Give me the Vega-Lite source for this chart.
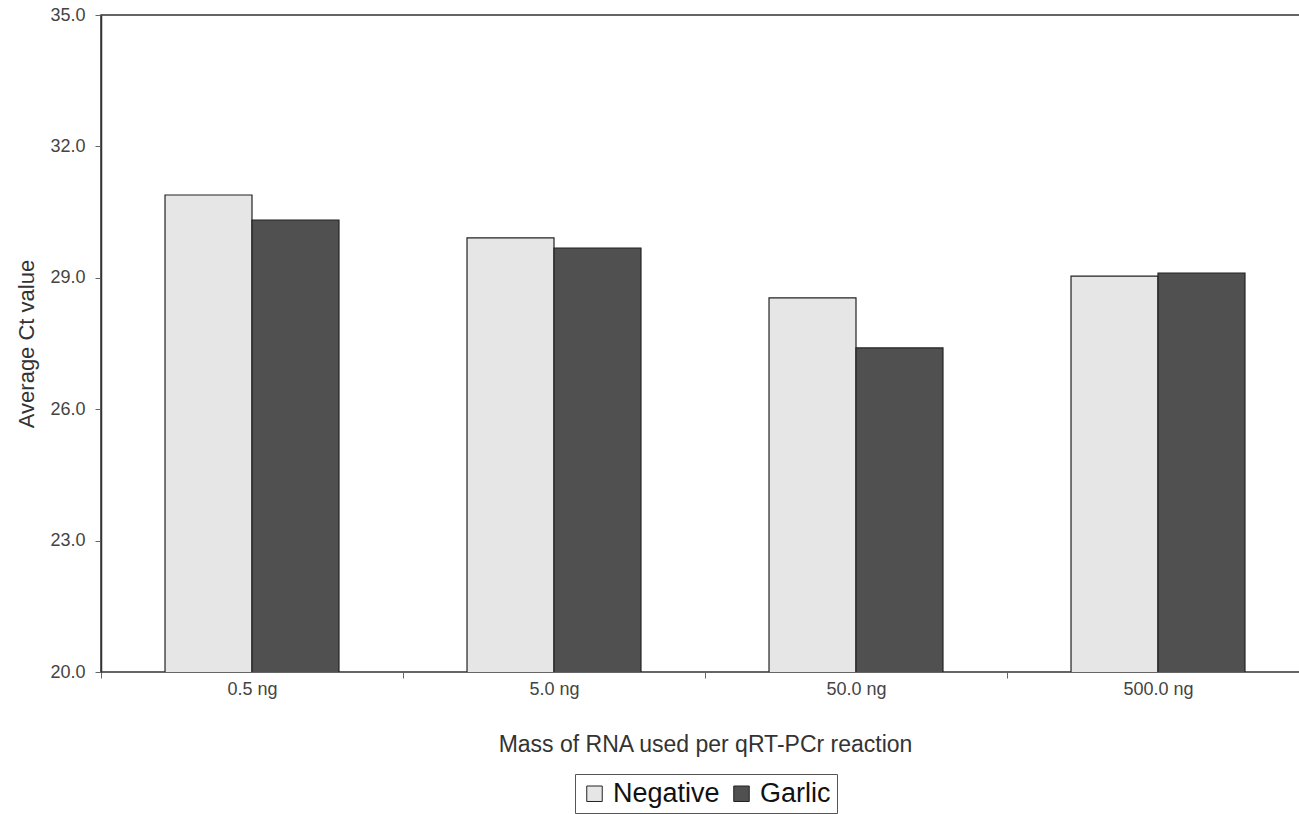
{
  "$schema": "https://vega.github.io/schema/vega-lite/v6.json",
  "width": 1208,
  "height": 657,
  "autosize": "none",
  "padding": {"left": 101, "top": 15, "right": 0, "bottom": 142},
  "background": "white",
  "config": {
    "font": "Liberation Sans",
    "view": {"stroke": "#333", "strokeWidth": 1.5},
    "axis": {"grid": false, "domainColor": "#333", "domainWidth": 1.5, "tickColor": "#666", "labelColor": "#444", "titleColor": "#333", "labelFontSize": 18, "titleFontSize": 22, "titleFontWeight": "normal"}
  },
  "data": {
    "values": [
      {"mass": "0.5 ng", "group": "Negative", "ct": 30.89},
      {"mass": "0.5 ng", "group": "Garlic", "ct": 30.32},
      {"mass": "5.0 ng", "group": "Negative", "ct": 29.91},
      {"mass": "5.0 ng", "group": "Garlic", "ct": 29.68},
      {"mass": "50.0 ng", "group": "Negative", "ct": 28.54},
      {"mass": "50.0 ng", "group": "Garlic", "ct": 27.40},
      {"mass": "500.0 ng", "group": "Negative", "ct": 29.04},
      {"mass": "500.0 ng", "group": "Garlic", "ct": 29.11}
    ]
  },
  "mark": {"type": "bar", "stroke": "#222", "strokeWidth": 1.2, "clip": true},
  "encoding": {
    "x": {
      "field": "mass", "type": "nominal", "sort": null,
      "scale": {"paddingInner": 0, "paddingOuter": 0},
      "axis": {"title": "Mass of RNA used per qRT-PCr reaction", "titleFontSize": 23, "labelAngle": 0, "tickBand": "extent", "tickSize": 6, "labelPadding": 2, "titlePadding": 35, "domain": false}
    },
    "xOffset": {
      "field": "group", "type": "nominal", "sort": ["Negative", "Garlic"],
      "scale": {"paddingInner": 0, "paddingOuter": 0.736}
    },
    "y": {
      "field": "ct", "type": "quantitative",
      "scale": {"domain": [20, 35], "zero": false},
      "axis": {"title": "Average Ct value", "values": [20, 23, 26, 29, 32, 35], "format": ".1f", "tickSize": 6, "labelPadding": 10, "titlePadding": 11}
    },
    "fill": {
      "field": "group", "type": "nominal",
      "scale": {"domain": ["Negative", "Garlic"], "range": ["#e6e6e6", "#505050"]},
      "legend": {
        "title": null, "orient": "none", "direction": "horizontal",
        "legendX": 474, "legendY": 759,
        "labelFontSize": 27, "labelColor": "#111", "symbolType": "square", "symbolSize": 240,
        "symbolStrokeColor": "#222", "symbolStrokeWidth": 1,
        "strokeColor": "#555", "padding": 6, "columnPadding": 8, "labelOffset": 5
      }
    }
  }
}
